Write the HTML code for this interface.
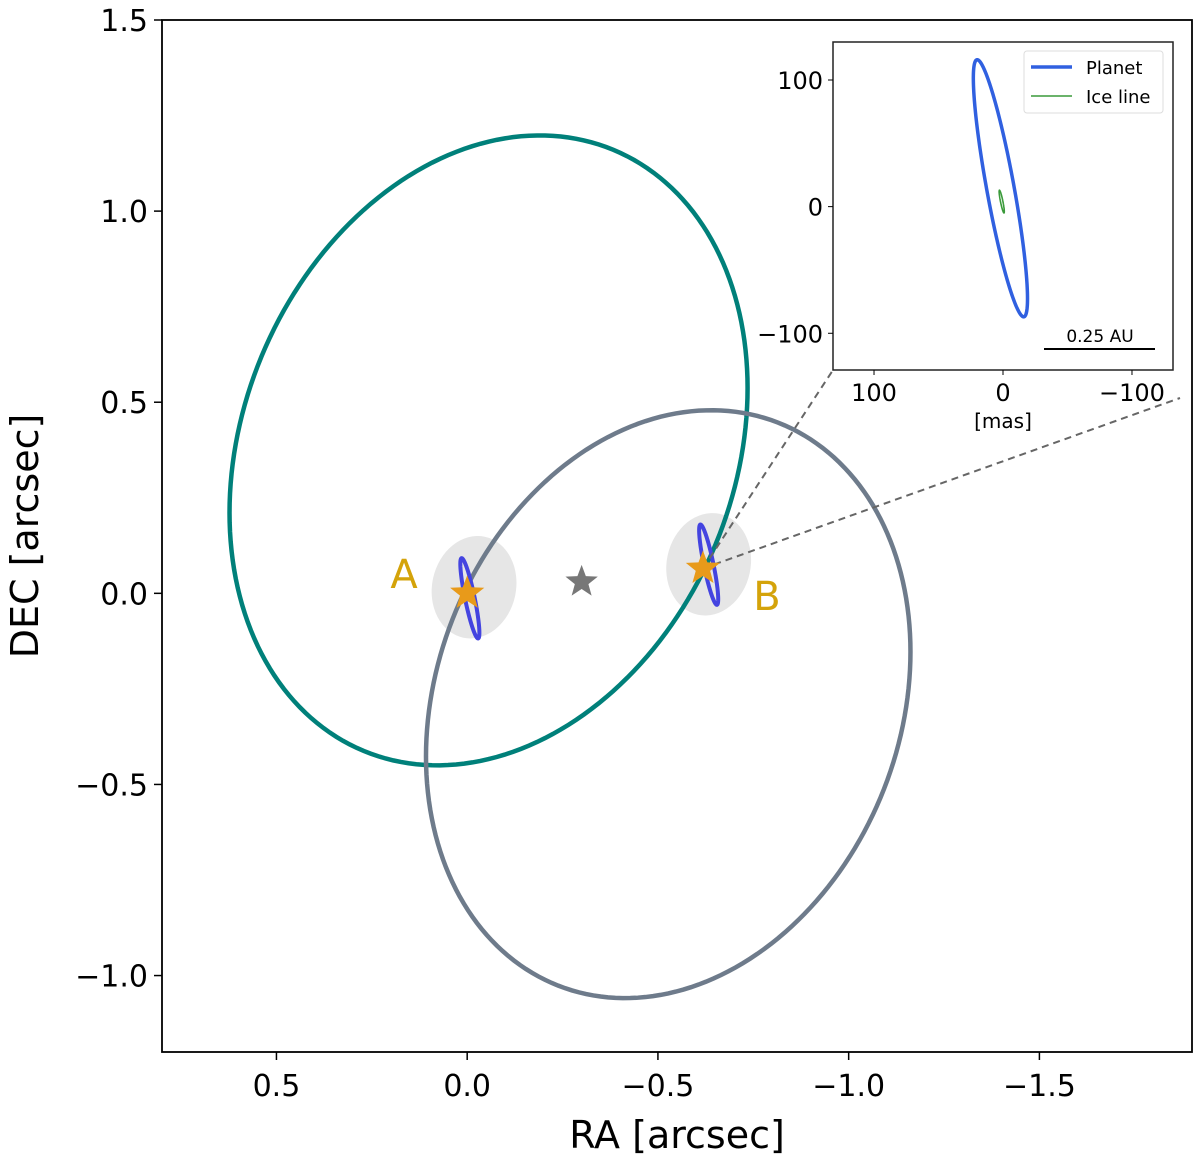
<!DOCTYPE html>
<html><head><meta charset="utf-8"><style>
body{margin:0;background:#fff;}
svg text{font-family:"DejaVu Sans","Liberation Sans",sans-serif;}
</style></head><body>
<svg id="chart" width="1200" height="1160" xmlns="http://www.w3.org/2000/svg"></svg>
<script>
// ---- data ----
const xTicks = [0.5, 0.0, -0.5, -1.0, -1.5];
const xTickLabels = ["0.5", "0.0", "\u22120.5", "\u22121.0", "\u22121.5"];
const yTicks = [1.5, 1.0, 0.5, 0.0, -0.5, -1.0];
const yTickLabels = ["1.5", "1.0", "0.5", "0.0", "\u22120.5", "\u22121.0"];
// big orbit ellipses: [raCenter, decCenter, raHalfWidth, decHalfHeight, phase]
const tealOrbit = [-0.056, 0.374, 0.679, 0.824, 1.77];
const grayOrbit = [-0.527, -0.290, 0.635, 0.769, 1.75];
// planet orbits in main plot (arcsec)
const planetA = [-0.007, -0.013, 0.025, 0.105, 0.54];
const planetB = [-0.633, 0.075, 0.025, 0.105, 0.54];
// stars [ra, dec]
const starA = [0.0, 0.0];
const starB = [-0.618, 0.065];
const starC = [-0.30, 0.03];
// uncertainty regions [ra, dec, rRA, rDec]
const regionA = [-0.018, 0.016, 0.11, 0.135];
const regionB = [-0.633, 0.076, 0.11, 0.135];
// inset (mas)
const insetTicksX = [100, 0, -100];
const insetTickLabelsX = ["100", "0", "\u2212100"];
const insetTicksY = [100, 0, -100];
const insetTickLabelsY = ["100", "0", "\u2212100"];
const insetPlanet = [2, 14.5, 21, 101.5, 0.54];
const insetIce = [1, 4, 2, 9, 0.5];

const svg = document.getElementById('chart');
const NS = 'http://www.w3.org/2000/svg';
function mk(tag, attrs, parent){const e=document.createElementNS(NS,tag);for(const k in attrs)e.setAttribute(k,attrs[k]);(parent||svg).appendChild(e);return e;}

// main axes
const L=162,R=1192,T=20,B=1052;
const xMin=0.8,xMax=-1.9,yMin=-1.2,yMax=1.5;
const sx=v=>L+(v-xMin)/(xMax-xMin)*(R-L);
const sy=v=>B-(v-yMin)/(yMax-yMin)*(B-T);

function ellPath(p,fx,fy){let d='';for(let i=0;i<=200;i++){const t=i/200*2*Math.PI;const x=p[0]-p[2]*Math.cos(t);const y=p[1]-p[3]*Math.cos(t-p[4]);d+=(i?'L':'M')+fx(x).toFixed(2)+','+fy(y).toFixed(2);}return d+'Z';}
function starPath(cx,cy,r){let d='';for(let i=0;i<10;i++){const a=-Math.PI/2+i*Math.PI/5;const rr=i%2?r*0.42:r;d+=(i?'L':'M')+(cx+rr*Math.cos(a)).toFixed(2)+','+(cy+rr*Math.sin(a)).toFixed(2);}return d+'Z';}

let e;
e=mk('rect',{x:L,y:T,width:R-L,height:B-T,fill:'#fff'});


e=mk('ellipse',{cx:sx(regionA[0]),cy:sy(regionA[1]),rx:(sx(0)-sx(regionA[2])),ry:(sy(0)-sy(regionA[3])),fill:'#e6e6e6',transform:`rotate(12 ${sx(regionA[0])} ${sy(regionA[1])})`});

e=mk('ellipse',{cx:sx(regionB[0]),cy:sy(regionB[1]),rx:(sx(0)-sx(regionB[2])),ry:(sy(0)-sy(regionB[3])),fill:'#e6e6e6',transform:`rotate(12 ${sx(regionB[0])} ${sy(regionB[1])})`});


e=mk('path',{d:ellPath(tealOrbit,sx,sy),fill:'none',stroke:'#00807a',"stroke-width":4.5});

e=mk('path',{d:ellPath(grayOrbit,sx,sy),fill:'none',stroke:'#6e7b8b',"stroke-width":4.5});

e=mk('path',{d:ellPath(planetA,sx,sy),fill:'none',stroke:'#4444e0',"stroke-width":4});

e=mk('path',{d:ellPath(planetB,sx,sy),fill:'none',stroke:'#4444e0',"stroke-width":4});


// dashed connectors
e=mk('line',{x1:sx(starB[0]),y1:sy(starB[1]),x2:833,y2:370,stroke:'#666',"stroke-width":2,"stroke-dasharray":'7,5'});

e=mk('line',{x1:sx(starB[0]),y1:sy(starB[1]),x2:1180,y2:398,stroke:'#666',"stroke-width":2,"stroke-dasharray":'7,5'});


e=mk('path',{d:starPath(sx(starA[0]),sy(starA[1]),18),fill:'#e89a1a'});

e=mk('path',{d:starPath(sx(starB[0]),sy(starB[1]),18),fill:'#e89a1a'});

e=mk('path',{d:starPath(sx(starC[0]),sy(starC[1]),17),fill:'#777'});


e=mk('text',{x:404,y:588,"font-size":40,fill:'#d4a30a',"text-anchor":'middle'});e.textContent='A';

e=mk('text',{x:767,y:610,"font-size":40,fill:'#d4a30a',"text-anchor":'middle'});e.textContent='B';


e=mk('rect',{x:L,y:T,width:R-L,height:B-T,fill:'none',stroke:'#000',"stroke-width":1.8});


xTicks.forEach((v,i)=>{
  mk('line',{x1:sx(v),x2:sx(v),y1:B,y2:B+8,stroke:'#000',"stroke-width":1.5});
  const t=mk('text',{x:sx(v),y:B+44,"font-size":30,"text-anchor":'middle'});t.textContent=xTickLabels[i];
  
  
});
yTicks.forEach((v,i)=>{
  mk('line',{x1:L-8,x2:L,y1:sy(v),y2:sy(v),stroke:'#000',"stroke-width":1.5});
  const t=mk('text',{x:L-14,y:sy(v)+11,"font-size":30,"text-anchor":'end'});t.textContent=yTickLabels[i];
  
  
});
e=mk('text',{x:677,y:1148,"font-size":38,"text-anchor":'middle'});e.textContent='RA [arcsec]';

e=mk('text',{x:0,y:0,"font-size":38,"text-anchor":'middle',transform:'translate(38,536) rotate(-90)'});e.textContent='DEC [arcsec]';


// inset
const iL=833,iR=1173,iT=42,iB=370;
const ixMin=131.8,ixMax=-131.8,iyMin=-129,iyMax=130;
const isx=v=>iL+(v-ixMin)/(ixMax-ixMin)*(iR-iL);
const isy=v=>iB-(v-iyMin)/(iyMax-iyMin)*(iB-iT);
e=mk('rect',{x:iL,y:iT,width:iR-iL,height:iB-iT,fill:'#fff',stroke:'#222',"stroke-width":1.5});

e=mk('path',{d:ellPath(insetPlanet,isx,isy),fill:'none',stroke:'#3060e0',"stroke-width":3.5});

e=mk('path',{d:ellPath(insetIce,isx,isy),fill:'none',stroke:'#3a9a3a',"stroke-width":1.6});

insetTicksX.forEach((v,i)=>{
  mk('line',{x1:isx(v),x2:isx(v),y1:iB,y2:iB+5,stroke:'#000',"stroke-width":1});
  const t=mk('text',{x:isx(v),y:iB+31,"font-size":24,"text-anchor":'middle'});t.textContent=insetTickLabelsX[i];
  
  
});
insetTicksY.forEach((v,i)=>{
  mk('line',{x1:iL-5,x2:iL,y1:isy(v),y2:isy(v),stroke:'#000',"stroke-width":1});
  const t=mk('text',{x:iL-10,y:isy(v)+9,"font-size":24,"text-anchor":'end'});t.textContent=insetTickLabelsY[i];
  
  
});
e=mk('text',{x:1003,y:428,"font-size":20,"text-anchor":'middle'});e.textContent='[mas]';

e=mk('line',{x1:1044,x2:1155,y1:349,y2:349,stroke:'#000',"stroke-width":2});

e=mk('text',{x:1100,y:342,"font-size":17,"text-anchor":'middle'});e.textContent='0.25 AU';

// legend
e=mk('rect',{x:1024,y:51,width:139,height:62,rx:3,fill:'#fff',stroke:'#ddd',"stroke-width":1});

mk('line',{x1:1031,x2:1072,y1:67,y2:67,stroke:'#3060e0',"stroke-width":3.5});
e=mk('text',{x:1086,y:74,"font-size":18});e.textContent='Planet';

mk('line',{x1:1031,x2:1072,y1:96,y2:96,stroke:'#3a9a3a',"stroke-width":1.6});
e=mk('text',{x:1086,y:103,"font-size":18});e.textContent='Ice line';

</script>
</body></html>
